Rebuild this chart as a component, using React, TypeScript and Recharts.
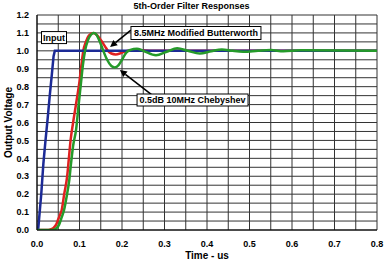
import React from 'react';
import { LineChart, Line, XAxis, YAxis, CartesianGrid, ReferenceDot, ReferenceLine } from 'recharts';

const xTicks = [0, 0.05, 0.1, 0.15, 0.2, 0.25, 0.3, 0.35, 0.4, 0.45, 0.5, 0.55, 0.6, 0.65, 0.7, 0.75, 0.8];
const yTicks = [0, 0.05, 0.1, 0.15, 0.2, 0.25, 0.3, 0.35, 0.4, 0.45, 0.5, 0.55, 0.6, 0.65, 0.7, 0.75, 0.8, 0.85, 0.9, 0.95, 1.0, 1.05, 1.1, 1.15, 1.2];

const inputT = [0, 0.003, 0.01, 0.015, 0.02, 0.025, 0.03, 0.035, 0.039, 0.042, 0.8];
const inputV = [0, 0.01, 0.2, 0.37, 0.5, 0.62, 0.75, 0.87, 0.97, 1.0, 1.0];

const butterT = [0, 0.026, 0.03, 0.038, 0.045, 0.05, 0.055, 0.058, 0.064, 0.071, 0.075, 0.079, 0.085, 0.093, 0.1, 0.105, 0.109, 0.115, 0.122, 0.1325, 0.14, 0.15, 0.16, 0.167, 0.175, 0.185, 0.195, 0.205, 0.215, 0.24, 0.27, 0.8];
const butterV = [0, 0, 0.002, 0.01, 0.03, 0.06, 0.09, 0.11, 0.2, 0.3, 0.4, 0.5, 0.6, 0.72, 0.83, 0.93, 1.0, 1.05, 1.085, 1.1, 1.09, 1.06, 1.025, 1.0, 0.985, 0.98, 0.985, 0.995, 1.0, 1.004, 1.0, 1.0];

const chebyT = [0, 0.03, 0.04, 0.045, 0.052, 0.058, 0.0635, 0.07, 0.076, 0.08, 0.085, 0.092, 0.098, 0.103, 0.108, 0.113, 0.12, 0.127, 0.134, 0.14, 0.148, 0.156, 0.165, 0.175, 0.183, 0.192, 0.2, 0.21, 0.22, 0.235, 0.25, 0.28, 0.305, 0.33, 0.355, 0.383, 0.41, 0.435, 0.46, 0.485, 0.52, 0.55, 0.58, 0.62, 0.8];
const chebyV = [0, 0, 0.002, 0.008, 0.03, 0.07, 0.11, 0.19, 0.28, 0.37, 0.47, 0.56, 0.7, 0.81, 0.92, 1.0, 1.06, 1.09, 1.1, 1.09, 1.05, 1.0, 0.95, 0.915, 0.907, 0.92, 0.95, 0.99, 1.005, 1.012, 1.0, 0.975, 0.995, 1.015, 1.0, 0.985, 0.998, 1.008, 1.0, 0.995, 1.0, 1.004, 0.998, 1.003, 1.0];

const labelInput = 'Input';
const labelButter = '8.5MHz Modified Butterworth';
const labelCheby = '0.5dB 10MHz Chebyshev';

const toData = (ts: number[], vs: number[]) => ts.map((t, i) => ({ t, v: vs[i] }));
const inputData = toData(inputT, inputV);
const butterData = toData(butterT, butterV);
const chebyData = toData(chebyT, chebyV);

const FONT = '"Liberation Sans", Arial, sans-serif';

const fmt = (v: number) => {
  const r = Math.round(v * 10);
  return Math.abs(v * 10 - r) < 1e-6 ? (r / 10).toFixed(1) : '';
};

const boxShape = (text: string, w: number, h: number) => (props: any) => {
  const { cx, cy } = props;
  return (
    <g>
      <rect x={cx - w / 2} y={cy - h / 2} width={w} height={h} fill="#fff" stroke="#000" strokeWidth={1} />
      <text x={cx} y={cy + 3.3} textAnchor="middle" fontFamily={FONT} fontWeight="bold" fontSize={9} fill="#000">{text}</text>
    </g>
  );
};

const arrowShape = (props: any) => {
  const { x1, y1, x2, y2 } = props;
  const ang = Math.atan2(y2 - y1, x2 - x1);
  const L = 7, W = 3.5;
  const bx = x2 - L * Math.cos(ang), by = y2 - L * Math.sin(ang);
  const px = -Math.sin(ang) * W, py = Math.cos(ang) * W;
  return (
    <g>
      <line x1={x1} y1={y1} x2={bx} y2={by} stroke="#000" strokeWidth={1.6} />
      <polygon points={`${x2},${y2} ${bx + px},${by + py} ${bx - px},${by - py}`} fill="#000" />
    </g>
  );
};

export default function App() {
  const tickStyle = { fill: '#000', fontSize: 9, fontWeight: 'bold', fontFamily: FONT } as any;
  return (
    <div style={{ position: 'absolute', left: 0, top: 0, width: 387, height: 263, background: '#fff' }}>
      <div style={{ position: 'absolute', left: 0, width: 387, top: 0, textAlign: 'center', fontFamily: FONT, fontWeight: 'bold', fontSize: 9, lineHeight: '13px', paddingLeft: 0 }}>
        <span style={{ position: 'relative', left: -2 }}>5th-Order Filter Responses</span>
      </div>
      <LineChart width={387} height={263} margin={{ top: 15, right: 10, left: 0, bottom: 0 }}>
        <CartesianGrid stroke="#333" strokeWidth={1} />
        <XAxis
          dataKey="t"
          type="number"
          domain={[0, 0.8]}
          ticks={xTicks}
          tickFormatter={fmt}
          tickLine={false}
          axisLine={{ stroke: '#000' }}
          tick={tickStyle}
          tickMargin={5}
          height={33}
          interval={0}
          allowDataOverflow
          label={{ value: 'Time - us', position: 'insideBottom', offset: 4, style: { fill: '#000', fontSize: 10, fontWeight: 'bold', fontFamily: FONT } }}
        />
        <YAxis
          type="number"
          domain={[0, 1.2]}
          ticks={yTicks}
          tickFormatter={fmt}
          tickLine={false}
          axisLine={{ stroke: '#000' }}
          tick={tickStyle}
          width={37}
          interval={0}
          allowDataOverflow
          label={{ value: 'Output Voltage', angle: -90, position: 'insideLeft', offset: 8, style: { textAnchor: 'middle', fill: '#000', fontSize: 10, fontWeight: 'bold', fontFamily: FONT } }}
        />
        <Line data={butterData} dataKey="v" type="monotone" stroke="#e02020" strokeWidth={2.5} dot={false} isAnimationActive={false} />
        <Line data={inputData} dataKey="v" type="linear" stroke="#1c2a96" strokeWidth={2.5} dot={false} isAnimationActive={false} />
        <Line data={chebyData} dataKey="v" type="monotone" stroke="#259a2a" strokeWidth={2.5} dot={false} isAnimationActive={false} />
        <ReferenceLine segment={[{ x: 0.221, y: 1.116 }, { x: 0.172, y: 1.021 }]} shape={arrowShape} ifOverflow="visible" />
        <ReferenceLine segment={[{ x: 0.271, y: 0.753 }, { x: 0.195, y: 0.893 }]} shape={arrowShape} ifOverflow="visible" />
        <ReferenceDot x={0.04} y={1.074} r={1} shape={boxShape(labelInput, 25, 12)} ifOverflow="visible" />
        <ReferenceDot x={0.374} y={1.0995} r={1} shape={boxShape(labelButter, 130, 13)} ifOverflow="visible" />
        <ReferenceDot x={0.366} y={0.7256} r={1} shape={boxShape(labelCheby, 111, 12)} ifOverflow="visible" />
      </LineChart>
    </div>
  );
}
